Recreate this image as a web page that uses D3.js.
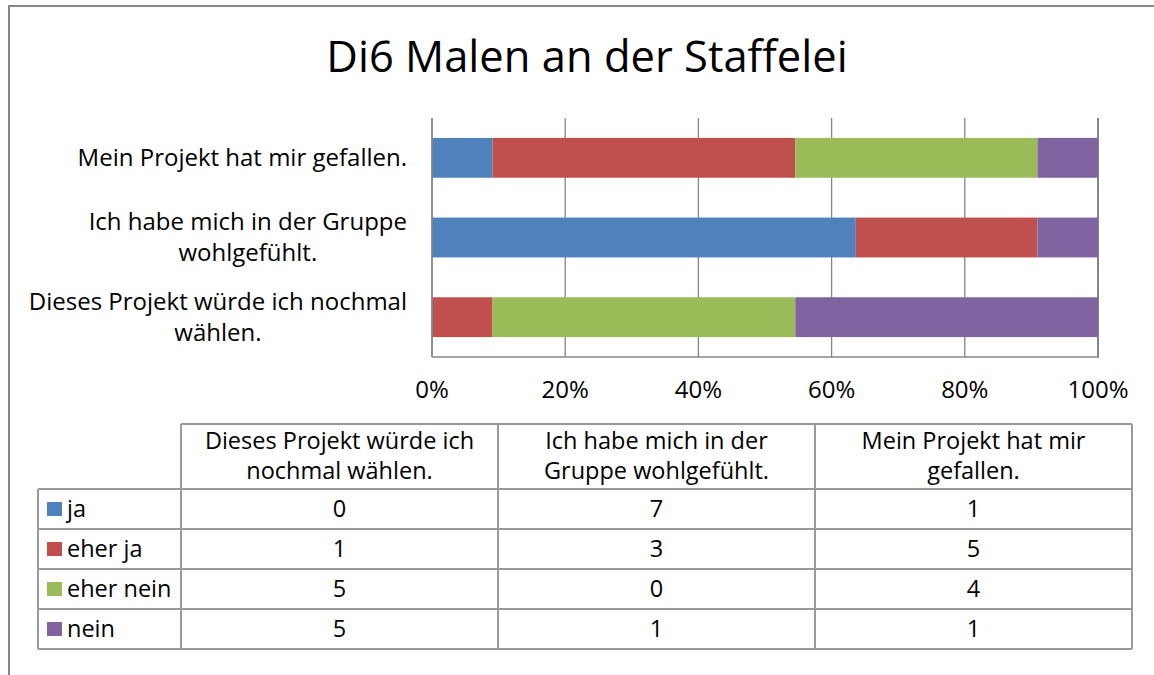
<!DOCTYPE html>
<html>
<head>
<meta charset="utf-8">
<script src="https://cdn.jsdelivr.net/npm/d3@7"></script>
<style>
  html, body { margin: 0; padding: 0; background: #fff; }
  svg { display: block; }
  text { font-family: "Open Sans", "Noto Sans", sans-serif; fill: #000; }
</style>
</head>
<body>
<svg id="chart" width="1154" height="675"></svg>
<script>
// ---- data ----
const title = "Di6 Malen an der Staffelei";
const categories = [
  "Dieses Projekt würde ich nochmal wählen.",
  "Ich habe mich in der Gruppe wohlgefühlt.",
  "Mein Projekt hat mir gefallen."
];
const axisLabelLines = [
  ["Dieses Projekt würde ich nochmal", "wählen."],
  ["Ich habe mich in der Gruppe", "wohlgefühlt."],
  ["Mein Projekt hat mir gefallen."]
];
const tableHeaderLines = [
  ["Dieses Projekt würde ich", "nochmal wählen."],
  ["Ich habe mich in der", "Gruppe wohlgefühlt."],
  ["Mein Projekt hat mir", "gefallen."]
];
const seriesNames = ["ja", "eher ja", "eher nein", "nein"];
const ja = [0, 7, 1];
const eherJa = [1, 3, 5];
const eherNein = [5, 0, 4];
const nein = [5, 1, 1];
const seriesValues = [ja, eherJa, eherNein, nein];
const seriesColors = ["#4F81BD", "#C0504D", "#9BBB59", "#8064A2"];
const tickValues = [0, 0.2, 0.4, 0.6, 0.8, 1.0];

// ---- layout ----
const svg = d3.select("#chart");
const plot = { left: 432, right: 1098, top: 118, bottom: 357 };

// outer chart border
svg.append("rect")
  .attr("x", 9).attr("y", 6)
  .attr("width", 1160).attr("height", 690)
  .attr("fill", "none").attr("stroke", "#868686").attr("stroke-width", 2);

// title
svg.append("text")
  .attr("x", 587).attr("y", 72)
  .attr("text-anchor", "middle")
  .style("font-size", "43.5px")
  .text(title);

// scales
const x = d3.scaleLinear().domain([0, 1]).range([plot.left, plot.right]);
const yOrder = categories.slice().reverse(); // top = last category
const y = d3.scaleBand().domain(yOrder).range([plot.top, plot.bottom]).paddingInner(0.5).paddingOuter(0.25);

// gridlines
svg.append("g").selectAll("line").data(tickValues).join("line")
  .attr("x1", d => x(d)).attr("x2", d => x(d))
  .attr("y1", plot.top).attr("y2", plot.bottom)
  .attr("stroke", "#868686").attr("stroke-width", d => d === 1 ? 2 : 1.3);

// stacked data
const rows = categories.map((c, i) => {
  const o = { cat: c };
  seriesNames.forEach((s, j) => o[s] = seriesValues[j][i]);
  return o;
});
const stack = d3.stack().keys(seriesNames).offset(d3.stackOffsetExpand);
const stacked = stack(rows);

svg.append("g").selectAll("g").data(stacked).join("g")
  .attr("fill", (d, i) => seriesColors[i])
  .selectAll("rect").data(d => d).join("rect")
  .attr("x", d => x(d[0]))
  .attr("width", d => x(d[1]) - x(d[0]))
  .attr("y", d => y(d.data.cat))
  .attr("height", y.bandwidth());

// axes lines
svg.append("line")
  .attr("x1", plot.left).attr("x2", plot.left)
  .attr("y1", plot.top).attr("y2", plot.bottom)
  .attr("stroke", "#868686").attr("stroke-width", 1.5);
svg.append("line")
  .attr("x1", plot.left).attr("x2", plot.right + 1)
  .attr("y1", plot.bottom).attr("y2", plot.bottom)
  .attr("stroke", "#868686").attr("stroke-width", 1.5);

// x tick labels
svg.append("g").selectAll("text").data(tickValues).join("text")
  .attr("x", d => x(d)).attr("y", 398)
  .attr("text-anchor", "middle")
  .style("font-size", "24px")
  .text(d => d3.format(".0%")(d));

// category labels
const catG = svg.append("g");
categories.forEach((c, i) => {
  const lines = axisLabelLines[i];
  const cy = y(c) + y.bandwidth() / 2;
  const lineH = 31;
  const t = catG.append("text")
    .attr("text-anchor", "middle")
    .style("font-size", "24px");
  lines.forEach((ln, k) => {
    t.append("tspan")
      .attr("x", 0)
      .attr("y", cy + 8 + (k - (lines.length - 1) / 2) * lineH)
      .text(ln);
  });
  // right align the block at x=407
  const w = t.node().getBBox().width;
  t.attr("transform", `translate(${407 - w / 2},0)`);
});

// ---- data table ----
const tbl = { legendLeft: 38, left: 181, colW: 317, top: 424, headH: 65, rowH: 40 };
const tableG = svg.append("g");
const gridColor = "#9a9a9a";
const nCols = categories.length;
const tRight = tbl.left + nCols * tbl.colW;
const rowsTop = tbl.top + tbl.headH;
const tBottom = rowsTop + seriesNames.length * tbl.rowH;

tableG.append("line").attr("x1", tbl.left).attr("x2", tRight).attr("y1", tbl.top).attr("y2", tbl.top)
  .attr("stroke", gridColor).attr("stroke-width", 2);
for (let r = 0; r <= seriesNames.length; r++) {
  const yy = rowsTop + r * tbl.rowH;
  tableG.append("line").attr("x1", tbl.legendLeft).attr("x2", tRight).attr("y1", yy).attr("y2", yy)
    .attr("stroke", gridColor).attr("stroke-width", 2);
}
tableG.append("line").attr("x1", tbl.legendLeft).attr("x2", tbl.legendLeft).attr("y1", rowsTop).attr("y2", tBottom)
  .attr("stroke", gridColor).attr("stroke-width", 2);
for (let c = 0; c <= nCols; c++) {
  const xx = tbl.left + c * tbl.colW;
  tableG.append("line").attr("x1", xx).attr("x2", xx).attr("y1", tbl.top).attr("y2", tBottom)
    .attr("stroke", gridColor).attr("stroke-width", 2);
}

// header text
tableHeaderLines.forEach((lines, c) => {
  const cx = tbl.left + c * tbl.colW + tbl.colW / 2;
  const t = tableG.append("text").attr("text-anchor", "middle").style("font-size", "23.5px");
  lines.forEach((ln, k) => {
    t.append("tspan").attr("x", cx).attr("y", tbl.top + 25 + k * 30).text(ln);
  });
});

// legend + values
seriesNames.forEach((s, r) => {
  const cyRow = rowsTop + r * tbl.rowH + tbl.rowH / 2;
  tableG.append("rect").attr("x", 47).attr("y", cyRow - 7).attr("width", 15).attr("height", 14)
    .attr("fill", seriesColors[r]);
  tableG.append("text").attr("x", 67).attr("y", cyRow + 8).style("font-size", "23.5px").text(s);
  seriesValues[r].forEach((v, c) => {
    tableG.append("text")
      .attr("x", tbl.left + c * tbl.colW + tbl.colW / 2)
      .attr("y", cyRow + 8)
      .attr("text-anchor", "middle")
      .style("font-size", "23.5px")
      .text(v);
  });
});
</script>
</body>
</html>
